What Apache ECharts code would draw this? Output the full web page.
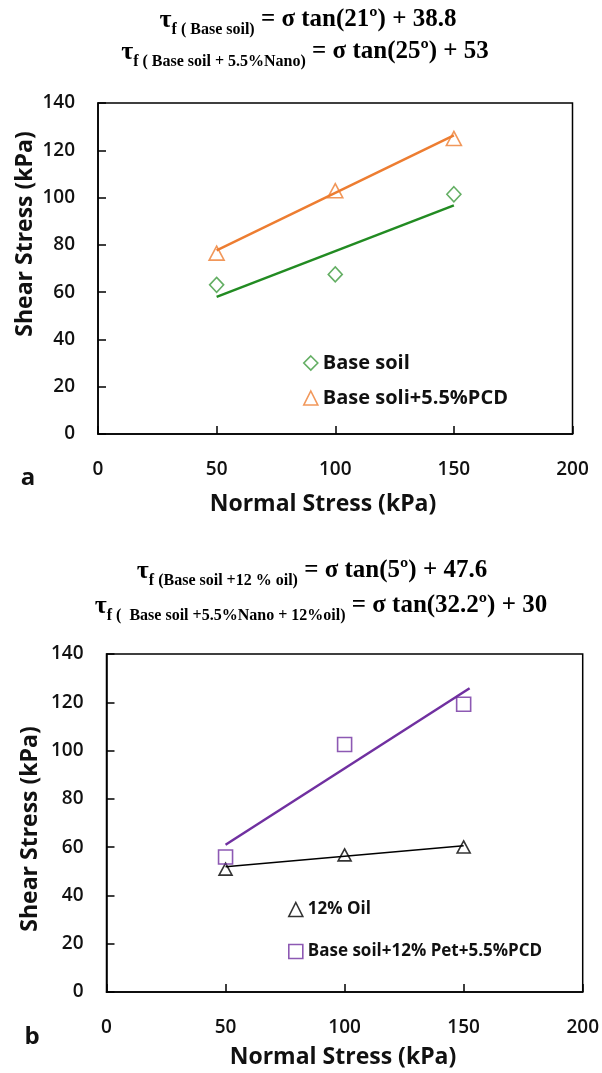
<!DOCTYPE html>
<html>
<head>
<meta charset="utf-8">
<script src="https://cdn.jsdelivr.net/npm/echarts@6/dist/echarts.min.js"></script>
<style>
html,body{margin:0;padding:0;background:#fff;}
#chart{width:602px;height:1073px;}
</style>
</head>
<body>
<div id="chart"></div>
<script>
// ---------- data ----------
var xTicks = [0, 50, 100, 150, 200];
var normalStress = [50, 100, 150];
var fitX = [50, 150];
// chart a
var baseSoil = [63.1, 67.5, 101.4];
var baseSoilFit = [58.0, 96.7];
var basePCD = [76.5, 102.9, 125.0];
var basePCDFit = [77.7, 126.3];
// chart b
var oil12 = [50.9, 56.8, 60.1];
var oil12FitX = [50, 150];
var oil12Fit = [51.9, 60.6];
var oilPCD = [55.9, 102.5, 119.2];
var oilPCDFitX = [50, 152.5];
var oilPCDFit = [61.0, 125.8];

var names = {
  a1: 'Base soil', a2: 'Base soli+5.5%PCD',
  b1: '12% Oil', b2: 'Base soil+12% Pet+5.5%PCD'
};

function pairs(xs, ys) { return xs.map(function (x, i) { return [x, ys[i]]; }); }

var FONT = '"Open Sans", "Noto Sans", sans-serif';
var SERIF = '"Liberation Serif", "DejaVu Serif", serif';
var GREEN_M = '#3c9a3c', GREEN_L = '#228b22', ORANGE = '#ed7d31', PURPLE = '#7030a0';

function xAxisCfg(g) {
  return {
    gridIndex: g, type: 'value', min: 0, max: 200, interval: 50,
    axisLine: { show: true, onZero: false, lineStyle: { color: '#000', width: 1.5 } },
    axisTick: { show: true, inside: true, length: 8, lineStyle: { color: '#000', width: 1.5 } },
    axisLabel: { margin: 26, fontSize: 19, fontWeight: 600, color: '#111', fontFamily: FONT },
    splitLine: { show: false }
  };
}
function yAxisCfg(g) {
  return {
    gridIndex: g, type: 'value', min: 0, max: 140, interval: 20,
    axisLine: { show: true, onZero: false, lineStyle: { color: '#000', width: 1.5 } },
    axisTick: { show: true, inside: true, length: 8, lineStyle: { color: '#000', width: 1.5 } },
    axisLabel: { margin: 23, fontSize: 19, fontWeight: 600, color: '#111', fontFamily: FONT },
    splitLine: { show: false }
  };
}
function scatter(name, g, data, symbol, size, color) {
  return {
    name: name, type: 'scatter', xAxisIndex: g, yAxisIndex: g,
    data: pairs(normalStress, data), symbol: symbol, symbolSize: size, z: 3,
    itemStyle: { color: 'rgba(255,255,255,0)', borderColor: color, borderWidth: 1.6 }
  };
}
function fit(name, g, xs, ys, color, w) {
  return {
    name: name, type: 'line', xAxisIndex: g, yAxisIndex: g,
    data: pairs(xs, ys), showSymbol: false, symbol: 'none', z: 2,
    lineStyle: { color: color, width: w }, silent: true
  };
}

function formula(x, y, sub, main) {
  return {
    type: 'text', x: x, y: y, z: 10,
    style: {
      text: '{t|τ}{s|' + sub + '}{m| ' + main + '}',
      textAlign: 'center', textVerticalAlign: 'middle',
      rich: {
        t: { fontFamily: SERIF, fontWeight: 'bold', fontSize: 26, lineHeight: 26, verticalAlign: 'top', fill: '#000' },
        s: { fontFamily: SERIF, fontWeight: 'bold', fontSize: 16, lineHeight: 14, padding: [15, 0, 0, 0], verticalAlign: 'top', fill: '#000' },
        m: { fontFamily: SERIF, fontWeight: 'bold', fontSize: 25, lineHeight: 26, verticalAlign: 'top', fill: '#000' }
      }
    }
  };
}
function label(x, y, text, size, rot) {
  return {
    type: 'text', x: x, y: y, rotation: rot || 0, z: 10,
    style: {
      text: text, textAlign: 'center', textVerticalAlign: 'middle',
      font: 'bold ' + size + 'px ' + FONT, fill: '#111'
    }
  };
}

var chart = echarts.init(document.getElementById('chart'), null, { renderer: 'canvas' });
chart.setOption({
  backgroundColor: '#fff',
  animation: false,
  grid: [
    { left: 98, top: 103, width: 474.5, height: 331, show: true, borderColor: '#000', borderWidth: 1.5 },
    { left: 106.5, top: 654, width: 476.5, height: 338, show: true, borderColor: '#000', borderWidth: 1.5 }
  ],
  xAxis: [xAxisCfg(0), xAxisCfg(1)],
  yAxis: [yAxisCfg(0), yAxisCfg(1)],
  legend: [
    {
      data: [
        { name: names.a1, icon: 'diamond', itemStyle: { color: 'rgba(255,255,255,0)', borderColor: GREEN_M, borderWidth: 1.6 } },
        { name: names.a2, icon: 'triangle', itemStyle: { color: 'rgba(255,255,255,0)', borderColor: ORANGE, borderWidth: 1.6 } }
      ],
      orient: 'vertical', left: 298, top: 348, itemWidth: 14, itemHeight: 14, itemGap: 15,
      selectedMode: false,
      textStyle: { fontFamily: FONT, fontWeight: 'bold', fontSize: 20, color: '#111', lineHeight: 14 }
    },
    {
      data: [
        { name: names.b1, icon: 'triangle', itemStyle: { color: 'rgba(255,255,255,0)', borderColor: '#000', borderWidth: 1.6 } },
        { name: names.b2, icon: 'rect', itemStyle: { color: 'rgba(255,255,255,0)', borderColor: PURPLE, borderWidth: 1.6 } }
      ],
      orient: 'vertical', left: 283, top: 896, itemWidth: 14, itemHeight: 14, itemGap: 25,
      selectedMode: false,
      textStyle: { fontFamily: FONT, fontWeight: 'bold', fontSize: 17, color: '#111', lineHeight: 14 }
    }
  ],
  series: [
    fit('fitA1', 0, fitX, baseSoilFit, GREEN_L, 2.5),
    fit('fitA2', 0, fitX, basePCDFit, ORANGE, 2.5),
    scatter(names.a1, 0, baseSoil, 'diamond', [14, 15], GREEN_M),
    scatter(names.a2, 0, basePCD, 'triangle', [15, 14], ORANGE),
    fit('fitB1', 1, oil12FitX, oil12Fit, '#000', 1.6),
    fit('fitB2', 1, oilPCDFitX, oilPCDFit, PURPLE, 2.5),
    scatter(names.b1, 1, oil12, 'triangle', [13, 12], '#000'),
    scatter(names.b2, 1, oilPCD, 'rect', [14, 14], PURPLE)
  ],
  graphic: [
    formula(308, 20, 'f ( Base soil)', '= σ tan(21º) + 38.8'),
    formula(305, 52, 'f ( Base soil + 5.5%Nano)', '= σ tan(25º) + 53'),
    formula(312, 571, 'f (Base soil +12 % oil)', '= σ tan(5º) + 47.6'),
    formula(321, 606, 'f (  Base soil +5.5%Nano + 12%oil)', '= σ tan(32.2º) + 30'),
    label(25, 234, 'Shear Stress (kPa)', 23, Math.PI / 2),
    label(30, 829, 'Shear Stress (kPa)', 23, Math.PI / 2),
    label(323, 504, 'Normal Stress (kPa)', 23),
    label(343, 1057, 'Normal Stress (kPa)', 23),
    label(28, 478, 'a', 24),
    label(32, 1037, 'b', 24)
  ]
});
</script>
</body>
</html>
